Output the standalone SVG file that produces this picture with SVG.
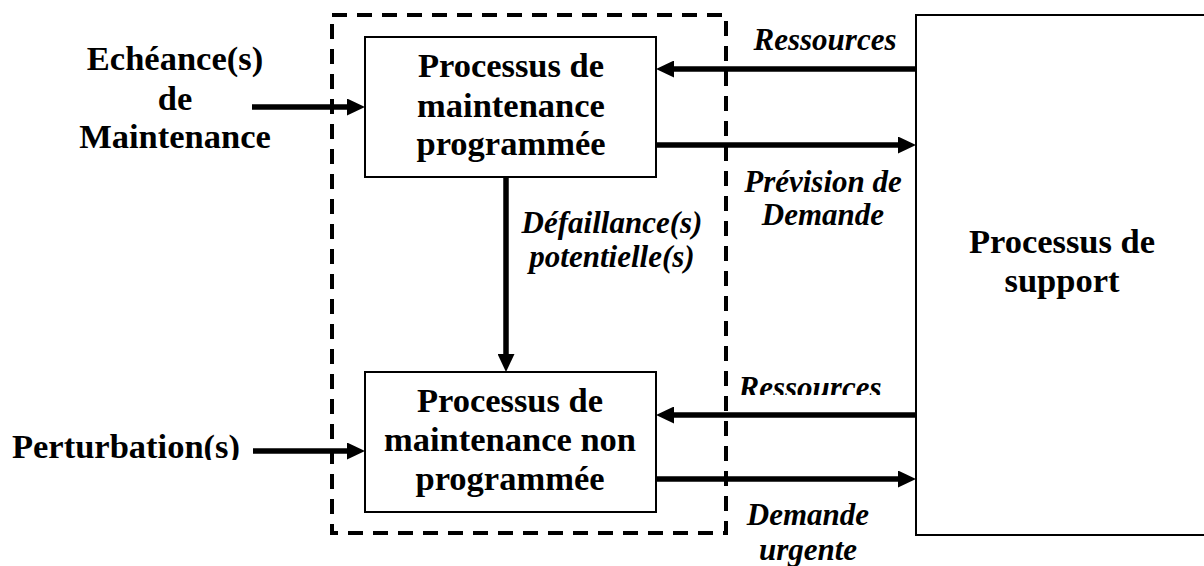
<svg xmlns="http://www.w3.org/2000/svg" width="1204" height="566" viewBox="0 0 1204 566">
<style>
.box{fill:#fff;stroke:#000;stroke-width:2}
.dash{fill:none;stroke:#000;stroke-width:4;stroke-dasharray:15 10}
.conn{stroke:#000;stroke-width:5.5;fill:none}
.t{font-family:"Liberation Serif","Times New Roman",serif;font-weight:bold;font-size:34.5px;text-anchor:middle;fill:#000}
.i{font-family:"Liberation Serif","Times New Roman",serif;font-weight:bold;font-style:italic;font-size:31px;text-anchor:middle;fill:#000}
</style>
<defs>
<marker id="ah" viewBox="0 0 18 17" refX="6" refY="8.5" markerWidth="18" markerHeight="17" markerUnits="userSpaceOnUse" orient="auto">
<path d="M0,0 L18,8.5 L0,17 Z" fill="#000"/>
</marker>
<clipPath id="clipRes"><rect x="600" y="360" width="320" height="35"/></clipPath>
<clipPath id="clipPert"><rect x="0" y="410" width="260" height="50"/></clipPath>
</defs>
<rect width="1204" height="566" fill="#fff"/>
<g id="boundary">
<rect class="dash" x="332" y="15" width="394" height="518"/>
</g>
<g id="node-prog">
<rect class="box" x="365" y="37" width="291" height="140"/>
<text class="t" x="511" y="77">Processus de</text>
<text class="t" x="511" y="117">maintenance</text>
<text class="t" x="511" y="155">programmée</text>
</g>
<g id="node-nonprog">
<rect class="box" x="365" y="372" width="291" height="140"/>
<text class="t" x="510" y="412">Processus de</text>
<text class="t" x="510" y="451">maintenance non</text>
<text class="t" x="510" y="490">programmée</text>
</g>
<g id="node-support">
<rect class="box" x="916" y="15" width="300" height="520"/>
<text class="t" x="1062" y="253">Processus de</text>
<text class="t" x="1062" y="292">support</text>
</g>
<g id="input-echeance">
<text class="t" x="175" y="70">Echéance(s)</text>
<text class="t" x="175" y="110">de</text>
<text class="t" x="175" y="148">Maintenance</text>
</g>
<g id="input-perturbation">
<text class="t" x="126" y="458" clip-path="url(#clipPert)">Perturbation(s)</text>
</g>
<g id="connectors">
<line class="conn" x1="252" y1="107" x2="353" y2="107" marker-end="url(#ah)"/>
<line class="conn" x1="253" y1="451" x2="353" y2="451" marker-end="url(#ah)"/>
<line class="conn" x1="916" y1="69" x2="668" y2="69" marker-end="url(#ah)"/>
<line class="conn" x1="656" y1="145" x2="904" y2="145" marker-end="url(#ah)"/>
<line class="conn" x1="916" y1="415" x2="668" y2="415" marker-end="url(#ah)"/>
<line class="conn" x1="656" y1="479" x2="904" y2="479" marker-end="url(#ah)"/>
<line class="conn" x1="506" y1="177" x2="506" y2="360" marker-end="url(#ah)"/>
</g>
<g id="labels">
<text class="i" x="825" y="50">Ressources</text>
<text class="i" x="823" y="192">Prévision de</text>
<text class="i" x="823" y="225">Demande</text>
<text class="i" x="612" y="233">Défaillance(s)</text>
<text class="i" x="612" y="267">potentielle(s)</text>
<text class="i" x="810" y="398" clip-path="url(#clipRes)">Ressources</text>
<text class="i" x="808" y="525">Demande</text>
<text class="i" x="808" y="560">urgente</text>
</g>
</svg>
